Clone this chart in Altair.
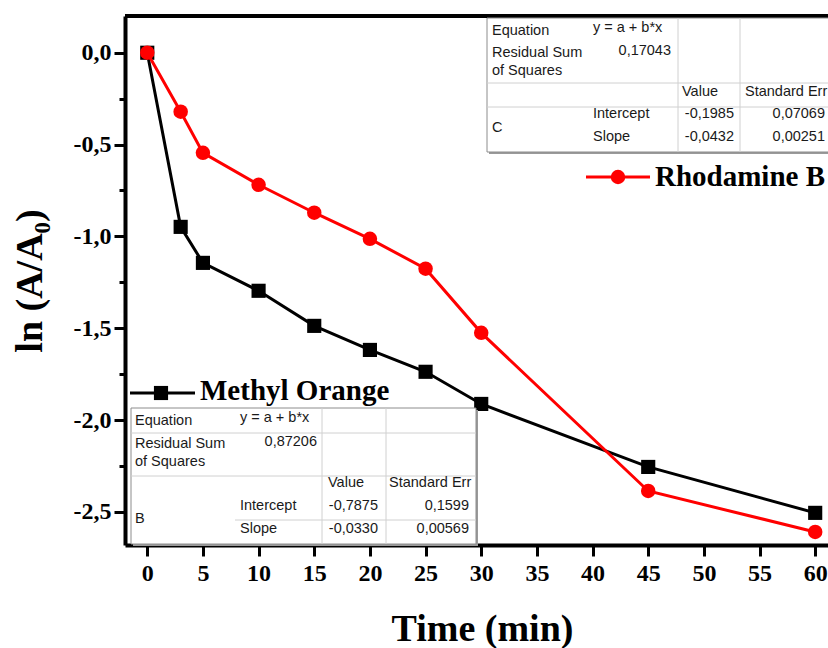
import altair as alt
import pandas as pd

# ---------------- data ----------------
time_min = [0, 3, 5, 10, 15, 20, 25, 30, 45, 60]
methyl_orange = [0.0, -0.948, -1.144, -1.296, -1.487, -1.618, -1.737, -1.912, -2.255, -2.505]
rhodamine_b = [0.0, -0.321, -0.545, -0.719, -0.871, -1.013, -1.176, -1.525, -2.386, -2.609]

x_ticks = list(range(0, 61, 5))
y_ticks = [0.0, -0.25, -0.5, -0.75, -1.0, -1.25, -1.5, -1.75, -2.0, -2.25, -2.5]

series_names = ["Methyl Orange", "Rhodamine B"]

# fit tables (text content)
table_b_text = ["Equation", "y = a + b*x", "Residual Sum", "of Squares", "0,87206",
                "Value", "Standard Err", "B", "Intercept", "Slope",
                "-0,7875", "-0,0330", "0,1599", "0,00569"]
table_c_text = ["Equation", "y = a + b*x", "Residual Sum", "of Squares", "0,17043",
                "Value", "Standard Err", "C", "Intercept", "Slope",
                "-0,1985", "-0,0432", "0,07069", "0,00251"]

# ---------------- layout ----------------
PAD_L, PAD_T, PAD_B = 125, 16, 103
W, H = 828 - PAD_L, 648 - PAD_T - PAD_B
SERIF = "Liberation Serif"
SANS = "Liberation Sans"

# table cell anchors (absolute page pixels): (x, y, align)
table_b_pos = [(135, 421, "left"), (240, 418, "left"), (135, 444, "left"), (135, 462, "left"),
               (317, 442, "right"), (328, 483, "left"), (389, 483, "left"), (135, 519, "left"),
               (240, 506, "left"), (240, 529, "left"), (378, 506, "right"), (378, 529, "right"),
               (469, 506, "right"), (469, 529, "right")]
table_c_pos = [(492, 31, "left"), (593, 28, "left"), (492, 53, "left"), (492, 71, "left"),
               (671, 51, "right"), (682, 92, "left"), (745, 92, "left"), (492, 128, "left"),
               (593, 114, "left"), (593, 137, "left"), (734, 114, "right"), (734, 137, "right"),
               (825, 114, "right"), (825, 137, "right")]
table_b_box = (131, 408, 476, 544)
table_c_box = (487, 18, 900, 152)
table_b_lines = [(131, 433, 476, 433), (131, 476, 476, 476), (235, 520, 476, 520),
                 (322, 408, 322, 544), (386, 408, 386, 544)]
table_c_lines = [(487, 83, 900, 83), (487, 107, 900, 107),
                 (678, 18, 678, 152), (740, 18, 740, 152)]

df = pd.DataFrame({
    "t": time_min * 2,
    "v": methyl_orange + rhodamine_b,
    "s": [series_names[0]] * len(time_min) + [series_names[1]] * len(time_min),
})

xscale = alt.Scale(domain=[-2, 61.15], nice=False, zero=False)
yscale = alt.Scale(domain=[-2.68, 0.2], nice=False, zero=False)

x_axis = alt.Axis(values=x_ticks, title="Time (min)", grid=False, domainColor="black",
                  domainWidth=4, tickColor="black", tickWidth=3, tickSize=11,
                  labelFont=SERIF, labelFontWeight="bold", labelFontSize=24, labelColor="black",
                  labelPadding=5, labelFlush=False, titleFont=SERIF, titleFontWeight="bold",
                  titleFontSize=38, titleColor="black", titleX=357, titlePadding=25)
y_axis = alt.Axis(values=y_ticks, title="ln (A/A₀)", grid=False, domainColor="black",
                  domainWidth=4, tickColor="black", tickWidth=3,
                  tickSize={"condition": {"test": "round(datum.value*4) % 2 != 0", "value": 6},
                            "value": 11},
                  labelExpr="round(datum.value*4) % 2 == 0 ? (datum.value < 0 ? '-' : '') + "
                            "replace(format(abs(datum.value), '.1f'), '.', ',') : ''",
                  labelFont=SERIF, labelFontWeight="bold", labelFontSize=24, labelColor="black",
                  labelPadding=3, labelFlush=False, titleFont=SERIF, titleFontWeight="bold",
                  titleFontSize=38, titleColor="black", titlePadding=24)

base = alt.Chart(df).encode(
    x=alt.X("t:Q", scale=xscale, axis=x_axis),
    y=alt.Y("v:Q", scale=yscale, axis=y_axis),
)

mo = base.transform_filter(alt.datum.s == series_names[0])
rb = base.transform_filter(alt.datum.s == series_names[1])

mo_line = mo.mark_line(color="black", strokeWidth=3)
mo_pts = mo.mark_point(shape="square", filled=True, size=200, color="black", opacity=1)
rb_line = rb.mark_line(color="#ff0000", strokeWidth=3)
rb_pts = rb.mark_point(shape="circle", filled=True, size=210, color="#ff0000", opacity=1)

top_frame = alt.Chart(df).mark_rule(color="black", strokeWidth=4).encode(
    x=alt.value(0), x2=alt.value(W), y=alt.value(0))


def px(v):
    return v - PAD_L


def py(v):
    return v - PAD_T


def table_layers(texts, pos, box, lines):
    layers = []
    x0, y0, x1, y1 = box
    bg = pd.DataFrame({"x": [px(x0)], "x2": [px(x1)], "y": [py(y0)], "y2": [py(y1)]})
    # shadow
    sh = pd.DataFrame({"x": [px(x0) + 2], "x2": [px(x1) + 2], "y": [py(y0) + 2], "y2": [py(y1) + 2]})
    layers.append(alt.Chart(sh).mark_rect(fill="#9a9a9a").encode(
        x=alt.X("x:Q", scale=None), x2="x2:Q", y=alt.Y("y:Q", scale=None), y2="y2:Q"))
    layers.append(alt.Chart(bg).mark_rect(fill="white", stroke="#8c8c8c", strokeWidth=1).encode(
        x=alt.X("x:Q", scale=None), x2="x2:Q", y=alt.Y("y:Q", scale=None), y2="y2:Q"))
    ln = pd.DataFrame({"x": [px(a) for a, b, c, d in lines], "y": [py(b) for a, b, c, d in lines],
                       "x2": [px(c) for a, b, c, d in lines], "y2": [py(d) for a, b, c, d in lines]})
    layers.append(alt.Chart(ln).mark_rule(color="#d0d0d0", strokeWidth=1).encode(
        x=alt.X("x:Q", scale=None), x2="x2:Q", y=alt.Y("y:Q", scale=None), y2="y2:Q"))
    for al in ["left", "right"]:
        rows = [(px(a), py(b), t) for t, (a, b, c) in zip(texts, pos) if c == al]
        tdf = pd.DataFrame(rows, columns=["x", "y", "text"])
        layers.append(alt.Chart(tdf).mark_text(align=al, baseline="middle", font=SANS,
                                               fontSize=14.5, color="#1a1a1a").encode(
            x=alt.X("x:Q", scale=None), y=alt.Y("y:Q", scale=None), text="text:N"))
    return layers


# legend entries
leg = pd.DataFrame({
    "name": series_names,
    "lx": [px(130), px(586)], "lx2": [px(195), px(650)],
    "ly": [py(393), py(177)],
    "mx": [px(161), px(618)],
    "tx": [px(200), px(655)],
    "ty": [py(400), py(186)],
})
leg_line_mo = alt.Chart(leg).transform_filter(alt.datum.name == series_names[0]).mark_rule(
    color="black", strokeWidth=3).encode(
    x=alt.X("lx:Q", scale=None), x2="lx2:Q", y=alt.Y("ly:Q", scale=None))
leg_pt_mo = alt.Chart(leg).transform_filter(alt.datum.name == series_names[0]).mark_point(
    shape="square", filled=True, size=200, color="black", opacity=1).encode(
    x=alt.X("mx:Q", scale=None), y=alt.Y("ly:Q", scale=None))
leg_line_rb = alt.Chart(leg).transform_filter(alt.datum.name == series_names[1]).mark_rule(
    color="#ff0000", strokeWidth=3).encode(
    x=alt.X("lx:Q", scale=None), x2="lx2:Q", y=alt.Y("ly:Q", scale=None))
leg_pt_rb = alt.Chart(leg).transform_filter(alt.datum.name == series_names[1]).mark_point(
    shape="circle", filled=True, size=210, color="#ff0000", opacity=1).encode(
    x=alt.X("mx:Q", scale=None), y=alt.Y("ly:Q", scale=None))
leg_text = alt.Chart(leg).mark_text(align="left", baseline="alphabetic", font=SERIF,
                                    fontWeight="bold", fontSize=29, color="black").encode(
    x=alt.X("tx:Q", scale=None), y=alt.Y("ty:Q", scale=None), text="name:N")

layers = [top_frame, mo_line, mo_pts, rb_line, rb_pts]
layers += table_layers(table_c_text, table_c_pos, table_c_box, table_c_lines)
layers += table_layers(table_b_text, table_b_pos, table_b_box, table_b_lines)
layers += [leg_line_mo, leg_pt_mo, leg_line_rb, leg_pt_rb, leg_text]

chart = alt.layer(*layers).properties(
    width=W, height=H,
    padding={"left": PAD_L, "top": PAD_T, "right": 0, "bottom": PAD_B},
    autosize=alt.AutoSizeParams(type="none"),
).configure_view(stroke=None).configure(background="white")

chart.save("out.html", embed_options={"renderer": "svg", "actions": False})
